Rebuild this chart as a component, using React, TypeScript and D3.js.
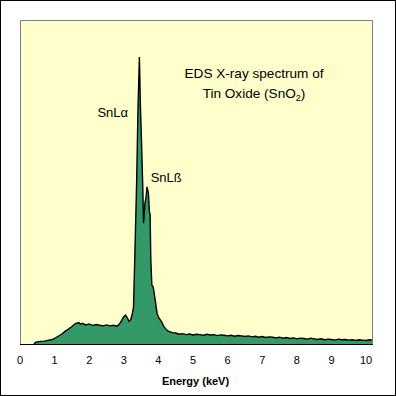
import * as d3 from 'd3'

// spectrum channels (keV) and intensity (arb. units, % of full scale)
const energy = [
	0.4, 0.45, 0.5, 0.6, 0.7, 0.8, 0.9, 1.0, 1.1, 1.2, 1.3, 1.4, 1.5, 1.6, 1.7, 1.75, 1.8, 1.9, 2.0, 2.1, 2.2,
	2.3, 2.4, 2.5, 2.6, 2.7, 2.8, 2.85, 2.9, 2.95, 3.0, 3.05, 3.1, 3.15, 3.2, 3.25, 3.28, 3.32, 3.37, 3.41,
	3.45, 3.48, 3.51, 3.55, 3.57, 3.61, 3.64, 3.67, 3.71, 3.74, 3.76, 3.78, 3.81, 3.85, 3.9, 3.96, 4.0, 4.05,
	4.09, 4.15, 4.24, 4.3, 4.4, 4.5, 4.6, 4.7, 4.8, 4.9, 5.0, 5.1, 5.2, 5.3, 5.4, 5.5, 5.6, 5.7, 5.8, 5.9, 6.0,
	6.1, 6.2, 6.3, 6.4, 6.5, 6.6, 6.7, 6.8, 6.9, 7.0, 7.1, 7.2, 7.3, 7.4, 7.5, 7.6, 7.7, 7.8, 7.9, 8.0, 8.1,
	8.2, 8.3, 8.4, 8.5, 8.6, 8.7, 8.8, 8.9, 9.0, 9.1, 9.2, 9.3, 9.4, 9.5, 9.6, 9.7, 9.8, 9.9, 10.0, 10.1, 10.2,
]
const counts = [
	0, 0.5, 0.6, 0.8, 0.9, 1.1, 1.3, 1.7, 2.4, 3.0, 3.9, 4.6, 5.4, 6.3, 6.6, 6.1, 6.4, 5.9, 6.2, 5.7, 6.0,
	5.8, 5.6, 5.9, 5.6, 5.8, 5.5, 5.9, 6.6, 7.5, 8.4, 8.9, 8.1, 7.0, 7.5, 9.5, 11.4, 28, 50, 73,
	88.6, 73, 63, 47.5, 37.3, 43.5, 45, 48.5, 46.6, 40.8, 40, 26, 18.2, 17.6, 14, 9.5, 8.3, 7.5,
	6.9, 5.5, 4.3, 3.9, 3.5, 3.4, 3.0, 3.2, 2.9, 3.1, 2.8, 3.0, 2.9, 2.7, 3.0, 2.8, 2.9, 2.6, 2.8, 2.7, 2.5,
	2.7, 2.4, 2.6, 2.5, 2.3, 2.5, 2.2, 2.4, 2.1, 2.3, 2.0, 2.2, 2.1, 1.9, 2.1, 1.8, 2.0, 1.7, 1.9, 1.6, 1.8,
	1.7, 1.5, 1.8, 1.6, 1.4, 1.6, 1.3, 1.5, 1.4, 1.2, 1.5, 1.3, 1.4, 1.2, 1.3, 1.1, 1.3, 1.2, 1.1, 1.3, 1.2,
]
const xTicks = [0, 1, 2, 3, 4, 5, 6, 7, 8, 9, 10]
const peakLabels = [
	{ text: 'SnLα', e: 3.45 },
	{ text: 'SnLß', e: 3.69 },
]

const W = 396
const H = 396
const margin = { top: 20, right: 23, bottom: 52, left: 20 }
const font = 'Arial, "Liberation Sans", sans-serif'

const App = () => {
	const x = d3
		.scaleLinear()
		.domain([0, 10.2])
		.range([margin.left, W - margin.right])
	const y = d3
		.scaleLinear()
		.domain([0, 100])
		.range([H - margin.bottom, margin.top])

	const pts = energy.map((e, i) => [e, counts[i]] as [number, number])
	const area = d3
		.area<[number, number]>()
		.x((d) => x(d[0]))
		.y0(y(0))
		.y1((d) => y(d[1]))
	const line = d3
		.line<[number, number]>()
		.x((d) => x(d[0]))
		.y((d) => y(d[1]))

	const x0 = x(0)
	const x1 = x(10.2)
	const yTop = y(100)
	const yBot = y(0)

	return (
		<svg
			width={W}
			height={H}
			style={{ position: 'absolute', left: 0, top: 0, background: '#fff' }}
			fontFamily={font}
		>
			<rect x={0.5} y={0.5} width={W - 1} height={H - 1} fill='#fff' stroke='#000' />
			<rect x={x0} y={yTop} width={x1 - x0} height={yBot - yTop} fill='#ffffcc' />
			<path d={area(pts) ?? ''} fill='#339966' />
			<path d={line(pts) ?? ''} fill='none' stroke='#000' strokeWidth={1.4} />
			{/* plot frame */}
			<path
				d={`M${x0 + 0.5},${yBot}V${yTop + 0.5}H${x1 - 0.5}V${yBot}`}
				fill='none'
				stroke='#808080'
			/>
			<line x1={x0} x2={x1} y1={yBot + 0.5} y2={yBot + 0.5} stroke='#000' />
			{xTicks.map((t) => (
				<text key={t} x={x(t)} y={364} textAnchor='middle' fontSize={11} fill='#000'>
					{t}
				</text>
			))}
			<text x={195.5} y={385} textAnchor='middle' fontSize={11} fontWeight='bold'>
				Energy (keV)
			</text>
			<text x={x(peakLabels[0].e) - 42} y={117} fontSize={13}>
				{peakLabels[0].text}
			</text>
			<text x={x(peakLabels[1].e) + 3} y={182} fontSize={13}>
				{peakLabels[1].text}
			</text>
			<text x={254} y={78} textAnchor='middle' fontSize={13.6}>
				EDS X-ray spectrum of
			</text>
			<text x={254} y={98} textAnchor='middle' fontSize={13.6}>
				Tin Oxide (SnO<tspan fontSize={9} dy={3}>2</tspan>
				<tspan dy={-3}>)</tspan>
			</text>
		</svg>
	)
}

export default App
